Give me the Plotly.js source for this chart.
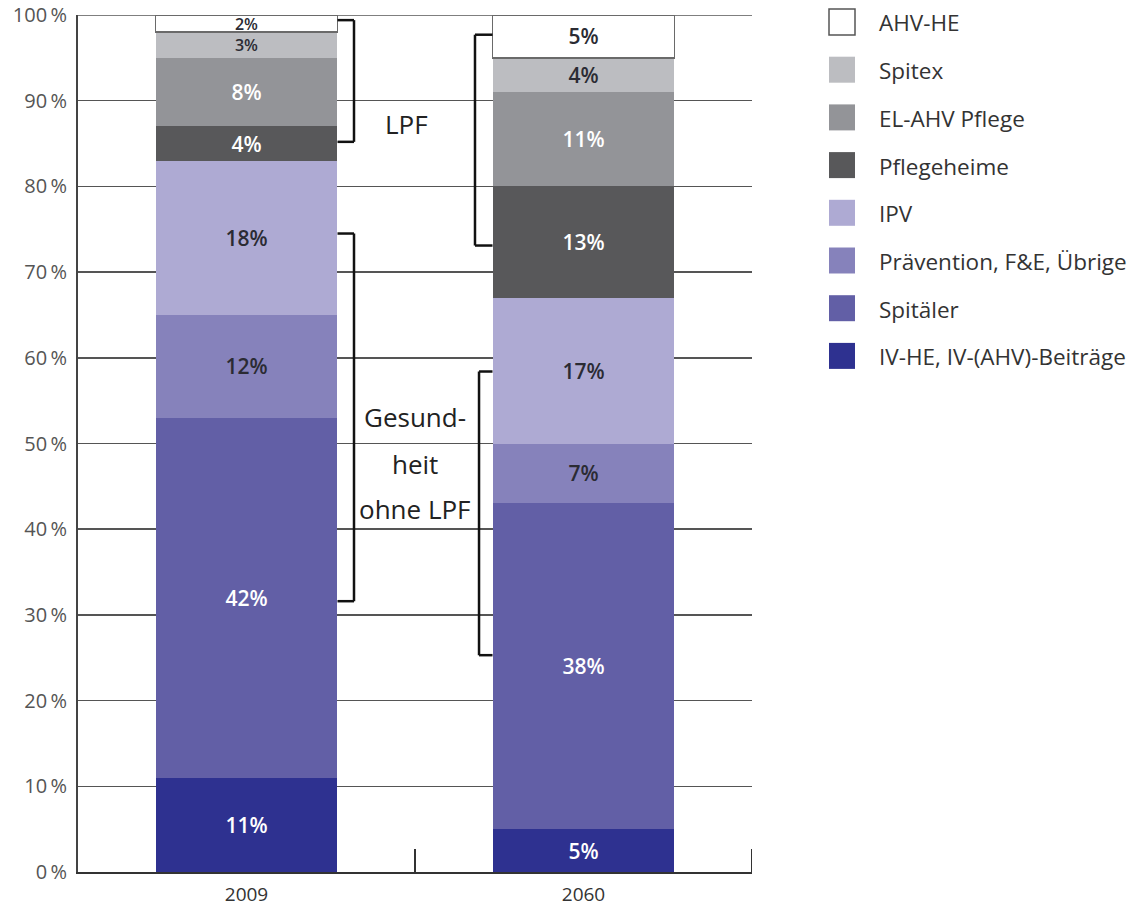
<!DOCTYPE html>
<html>
<head>
<meta charset="utf-8">
<script src="https://cdn.plot.ly/plotly-3.0.1.min.js"></script>
<style>
  html, body { margin: 0; padding: 0; background: #fff; }
  #chart { width: 1142px; height: 910px; }
</style>
</head>
<body>
<div id="chart"></div>
<script>
// Health and long-term care spending shares, 2009 vs 2060
const years = ['2009', '2060'];

const ivHe        = [11, 5];   // IV-HE, IV-(AHV)-Beiträge
const spitaeler   = [42, 38];  // Spitäler
const praevention = [12, 7];   // Prävention, F&E, Übrige
const ipv         = [18, 17];  // IPV
const pflegeheime = [4, 13];   // Pflegeheime
const elAhvPflege = [8, 11];   // EL-AHV Pflege
const spitex      = [3, 4];    // Spitex
const ahvHe       = [2, 5];    // AHV-HE

const seriesNames = [
  'IV-HE, IV-(AHV)-Beiträge', 'Spitäler', 'Prävention, F&E, Übrige', 'IPV',
  'Pflegeheime', 'EL-AHV Pflege', 'Spitex', 'AHV-HE'
];
const seriesValues = [ivHe, spitaeler, praevention, ipv, pflegeheime, elAhvPflege, spitex, ahvHe];

const yTickValues = [0, 10, 20, 30, 40, 50, 60, 70, 80, 90, 100];
const yTickLabels = ['0\u2009%', '10\u2009%', '20\u2009%', '30\u2009%', '40\u2009%', '50\u2009%',
                     '60\u2009%', '70\u2009%', '80\u2009%', '90\u2009%', '100\u2009%'];

// styling per series (bottom to top)
const fills     = ['#2e3190', '#625fa6', '#8682bb', '#aeaad3', '#58585a', '#939498', '#bcbdc1', '#ffffff'];
const textCols  = ['#ffffff', '#ffffff', '#2b2b33', '#2b2b33', '#ffffff', '#ffffff', '#2b2b33', '#2b2b33'];
const FONT = '"Open Sans", "Noto Sans", "DejaVu Sans", sans-serif';

// thin segments get a smaller label so neighbours don't collide
const labelSize = v => (v <= 3 ? 16 : 21);

const traces = seriesNames.map((name, i) => ({
  type: 'bar',
  name: name,
  x: years,
  y: seriesValues[i],
  width: 0.54,
  text: seriesValues[i].map(v => v + '%'),
  textposition: 'inside',
  insidetextanchor: 'middle',
  constraintext: 'none',
  textangle: 0,
  textfont: { family: FONT, size: seriesValues[i].map(labelSize), color: textCols[i], weight: 600 },
  marker: {
    color: fills[i],
    line: { color: i === 7 ? '#6a6a6a' : fills[i], width: i === 7 ? 1.5 : 0 }
  },
  showlegend: false,
  hoverinfo: 'skip'
}));

// plot area geometry in pixels (for paper-referenced legend items)
const M = { l: 78, r: 390, t: 15, b: 38 };
const W = 1142, H = 910;
const PW = W - M.l - M.r, PH = H - M.t - M.b;
const px2paperX = px => (px - M.l) / PW;
const px2paperY = py => (H - M.b - py) / PH;

const shapes = [];
const annotations = [];

// top (100 %) grid line, kept beneath the bars
shapes.push({
  type: 'line', xref: 'paper', yref: 'y', layer: 'below',
  x0: 0, x1: 1, y0: 100, y1: 100,
  line: { color: '#555555', width: 1.5 }
});

// closing tick at the right end of the category axis
shapes.push({
  type: 'line', xref: 'x', yref: 'paper',
  x0: 1.5, x1: 1.5, y0: 0, y1: 23 / PH,
  line: { color: '#333333', width: 2 }
});

// custom legend: top to bottom, reverse stacking order
const legendOrder = [7, 6, 5, 4, 3, 2, 1, 0];
legendOrder.forEach((si, row) => {
  const cy = 22 + row * 47.7;
  shapes.push({
    type: 'rect', xref: 'paper', yref: 'paper',
    x0: px2paperX(829), x1: px2paperX(855),
    y0: px2paperY(cy - 13), y1: px2paperY(cy + 13),
    fillcolor: fills[si],
    line: { color: si === 7 ? '#555555' : fills[si], width: si === 7 ? 1.5 : 0 }
  });
  annotations.push({
    xref: 'paper', yref: 'paper',
    x: px2paperX(877), y: px2paperY(cy + 1),
    xanchor: 'left', yanchor: 'middle',
    text: seriesNames[si], showarrow: false,
    font: { family: FONT, size: 22.5, color: '#333333' }
  });
});

// group brackets: [x of spine, x of bar edge, y top, y bottom]
const brackets = [
  [0.319, 0.27, 99.4, 85.2],
  [0.319, 0.27, 74.5, 31.6],
  [0.678, 0.73, 97.7, 73.1],
  [0.690, 0.73, 58.4, 25.3]
];
const bLine = { color: '#111111', width: 2.5 };
brackets.forEach(([xs, xe, yt, yb]) => {
  shapes.push({ type: 'line', xref: 'x', yref: 'y', x0: xe, x1: xs, y0: yt, y1: yt, line: bLine });
  shapes.push({ type: 'line', xref: 'x', yref: 'y', x0: xs, x1: xs, y0: yt, y1: yb, line: bLine });
  shapes.push({ type: 'line', xref: 'x', yref: 'y', x0: xs, x1: xe, y0: yb, y1: yb, line: bLine });
});

// group labels
const groupFont = { family: FONT, size: 26, color: '#222222', weight: 500 };
annotations.push({ xref: 'x', yref: 'y', x: 0.476, y: 87.3, text: 'LPF', showarrow: false, font: groupFont });
[['Gesund-', 53.1], ['heit', 47.6], ['ohne LPF', 42.3]].forEach(([t, yv]) => {
  annotations.push({ xref: 'x', yref: 'y', x: 0.5, y: yv, text: t, showarrow: false, font: groupFont });
});

const layout = {
  width: W, height: H, autosize: false,
  margin: M,
  paper_bgcolor: '#ffffff', plot_bgcolor: '#ffffff',
  barmode: 'stack',
  bargap: 0,
  showlegend: false,
  font: { family: FONT, color: '#333333' },
  xaxis: {
    type: 'category',
    range: [-0.5, 1.5],
    showgrid: false,
    showline: true, linecolor: '#333333', linewidth: 2,
    ticks: 'inside', tickson: 'boundaries', ticklen: 23, tickwidth: 2, tickcolor: '#333333',
    tickfont: { family: FONT, size: 19, color: '#333333' },
    ticklabelstandoff: 4,
    fixedrange: true
  },
  yaxis: {
    range: [0, 100],
    tickvals: yTickValues, ticktext: yTickLabels,
    showgrid: true, gridcolor: '#555555', gridwidth: 1.5,
    zeroline: false,
    showline: true, linecolor: '#444444', linewidth: 2,
    ticks: '',
    tickfont: { family: FONT, size: 20, color: '#555555' },
    ticklabelstandoff: 5,
    ticklabeloverflow: 'allow',
    fixedrange: true
  },
  shapes: shapes,
  annotations: annotations
};

Plotly.newPlot('chart', traces, layout, { staticPlot: true, displayModeBar: false });
</script>
</body>
</html>
